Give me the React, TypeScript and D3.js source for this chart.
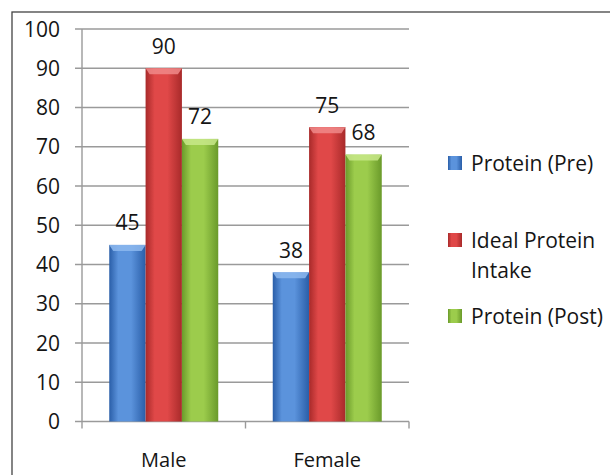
import React from "react";
import * as d3 from "d3";

const categories = ["Male", "Female"];
const seriesNames = ["Protein (Pre)", "Ideal Protein Intake", "Protein (Post)"];
const proteinPre = [45, 38];
const idealIntake = [90, 75];
const proteinPost = [72, 68];
const yTicks = [0, 10, 20, 30, 40, 50, 60, 70, 80, 90, 100];

const colors = [
  { mid: "#5b93dc", edge: "#2a5ea8", top: "#8db8ee" },
  { mid: "#e04848", edge: "#a82a2a", top: "#f08a8a" },
  { mid: "#9ccc4c", edge: "#6a9a2a", top: "#c8e88a" },
];

const W = 610;
const H = 475;
const left = 82;
const right = 409;
const top = 29;
const bottom = 421.5;
const FONT = "'Open Sans', Lato, sans-serif";

export default function App() {
  const series = [proteinPre, idealIntake, proteinPost];
  const x0 = d3.scaleBand().domain(categories).range([left, right]).paddingInner(0).paddingOuter(0);
  const groupW = x0.bandwidth() * (3 / 4.5);
  const x1 = d3
    .scaleBand()
    .domain(seriesNames)
    .range([0, groupW])
    .padding(0);
  const y = d3.scaleLinear().domain([0, 100]).range([bottom, top]);
  const offset = (x0.bandwidth() - groupW) / 2;

  return (
    <svg
      width={W}
      height={H}
      style={{ position: "absolute", left: 0, top: 0, background: "#fff" }}
    >
      <defs>
        {colors.map((c, i) => (
          <linearGradient key={i} id={`g${i}`} x1="0" x2="1" y1="0" y2="0">
            <stop offset="0" stopColor={c.edge} />
            <stop offset="0.25" stopColor={c.mid} />
            <stop offset="0.6" stopColor={c.mid} />
            <stop offset="1" stopColor={c.edge} />
          </linearGradient>
        ))}
      </defs>
      <rect x={12} y={12} width={W} height={H} fill="none" stroke="#444" strokeWidth={1.3} />
      {/* gridlines */}
      {yTicks.map((t) => (
        <line
          key={t}
          x1={left - 7}
          x2={right}
          y1={y(t)}
          y2={y(t)}
          stroke="#9a9a9a"
          strokeWidth={1.4}
        />
      ))}
      {/* axis line */}
      <line x1={left} x2={left} y1={top} y2={bottom + 7} stroke="#9a9a9a" strokeWidth={1.4} />
      {categories.map((c) => (
        <line
          key={c}
          x1={x0(c)! + x0.bandwidth()}
          x2={x0(c)! + x0.bandwidth()}
          y1={bottom}
          y2={bottom + 7}
          stroke="#9a9a9a"
          strokeWidth={1.4}
        />
      ))}
      {/* y tick labels */}
      {yTicks.map((t) => (
        <text
          key={t}
          x={60}
          y={y(t)}
          dy="0.36em"
          textAnchor="end"
          fontFamily={FONT}
          fontSize={21}
          fontWeight={500}
          fill="#151515"
        >
          {t}
        </text>
      ))}
      {/* bars */}
      {categories.map((c, ci) =>
        seriesNames.map((s, si) => {
          const v = series[si][ci];
          const bx = x0(c)! + offset + x1(s)!;
          const bw = x1.bandwidth();
          const by = y(v);
          const bh = bottom - by;
          const bev = 6;
          return (
            <g key={c + s}>
              <rect x={bx} y={by} width={bw} height={bh} fill={`url(#g${si})`} />
              <path
                d={`M${bx},${by} L${bx + bw},${by} L${bx + bw - 4},${by + bev} L${bx + 4},${by + bev} Z`}
                fill={colors[si].top}
                opacity={0.85}
              />
              <text
                x={bx + bw / 2}
                y={by - 22}
                dy="0.36em"
                textAnchor="middle"
                fontFamily={FONT}
                fontSize={21}
                fill="#151515"
              >
                {v}
              </text>
            </g>
          );
        })
      )}
      {/* category labels */}
      {categories.map((c) => (
        <text
          key={c}
          x={x0(c)! + x0.bandwidth() / 2}
          y={460}
          dy="0.36em"
          textAnchor="middle"
          fontFamily={FONT}
          fontSize={20}
          fontWeight={500}
          fill="#151515"
        >
          {c}
        </text>
      ))}
      {/* legend */}
      {[
        { i: 0, lines: ["Protein (Pre)"], yc: 163 },
        { i: 1, lines: ["Ideal Protein", "Intake"], yc: 240 },
        { i: 2, lines: ["Protein (Post)"], yc: 316 },
      ].map((l) => (
        <g key={l.i}>
          <rect x={448} y={l.yc - 7} width={14} height={14} fill={`url(#g${l.i})`} />
          {l.lines.map((ln, k) => (
            <text
              key={k}
              x={471}
              y={l.yc + k * 30}
              dy="0.36em"
              fontFamily={FONT}
              fontSize={21}
              fontWeight={500}
              fill="#151515"
            >
              {ln}
            </text>
          ))}
        </g>
      ))}
    </svg>
  );
}
